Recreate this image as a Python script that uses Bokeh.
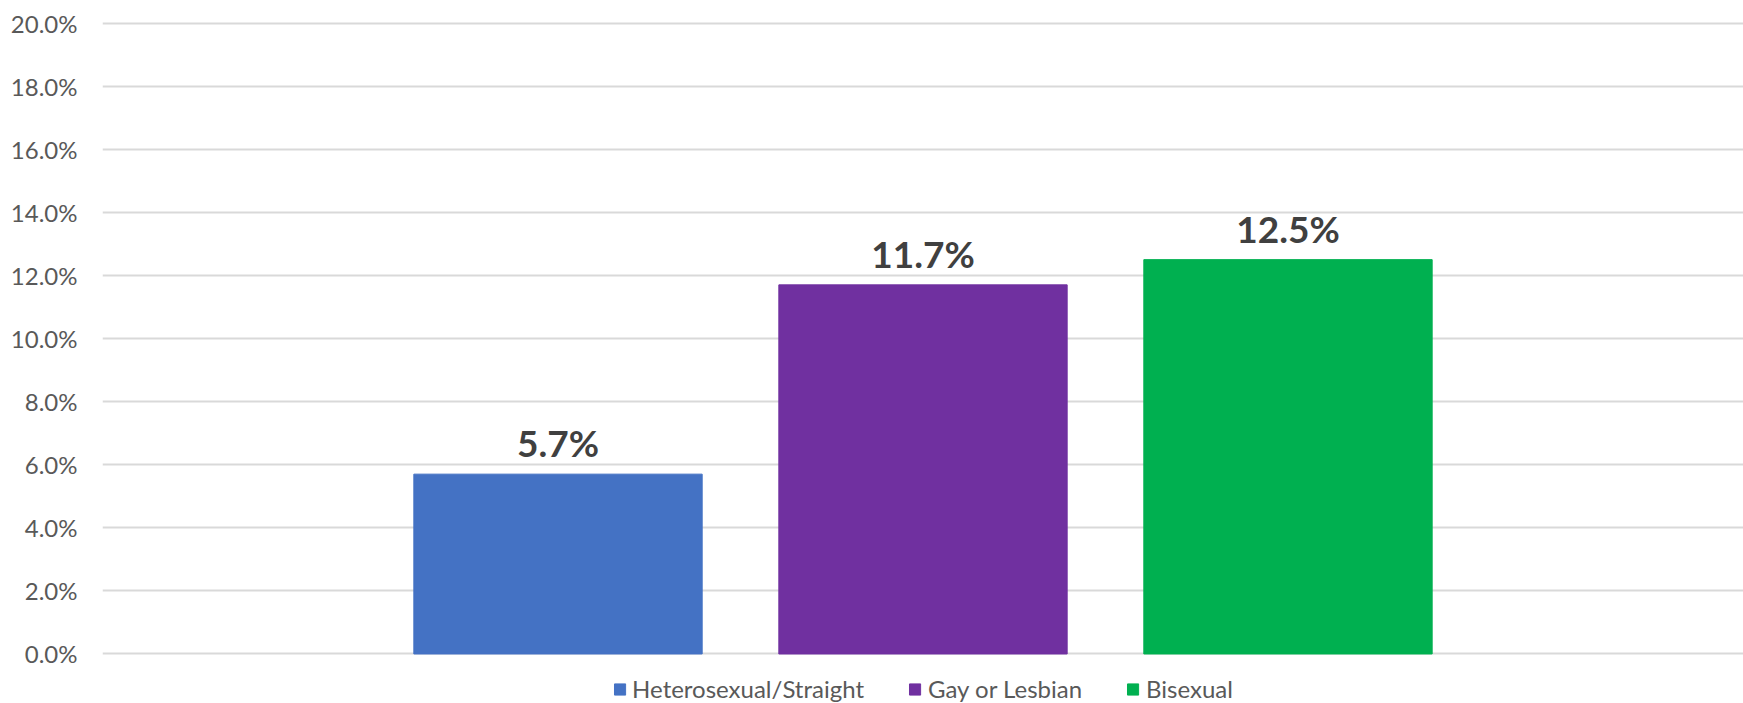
from bokeh.plotting import figure
from bokeh.layouts import column
from bokeh.models import ColumnDataSource, FixedTicker, NumeralTickFormatter, Range1d, Legend, LegendItem, LabelSet
from bokeh.core.properties import value
from bokeh.embed import file_html
from bokeh.resources import INLINE

categories = ["Heterosexual/Straight", "Gay or Lesbian", "Bisexual"]
values = [0.057, 0.117, 0.125]
labels = ["5.7%", "11.7%", "12.5%"]
colors = ["#4472C4", "#7030A0", "#00B050"]
positions = [-1, 0, 1]
y_ticks = [0.0, 0.02, 0.04, 0.06, 0.08, 0.10, 0.12, 0.14, 0.16, 0.18, 0.20]

src = ColumnDataSource(dict(x=positions, top=values, cat=categories, color=colors, label=labels))

p = figure(frame_width=1641, frame_height=636, output_backend="svg", toolbar_location=None,
           x_axis_type=None, x_range=Range1d(-2.248, 2.248), y_range=Range1d(-0.0008, 0.2008),
           min_border_left=102, min_border_right=0, min_border_top=20, min_border_bottom=12)
p.outline_line_color = None
p.background_fill_color = "white"
p.border_fill_color = "white"

r = p.vbar(x="x", top="top", width=0.79, bottom=0, color="color", source=src)

lbl = LabelSet(x="x", y="top", text="label", source=src, text_align="center", text_baseline="alphabetic",
               y_offset=17, text_font=value("Lato"), text_font_size=value("37px"), text_font_style="bold",
               text_color="#404040")
p.add_layout(lbl)

p.yaxis.ticker = FixedTicker(ticks=y_ticks)
p.yaxis.formatter = NumeralTickFormatter(format="0.0%")
p.yaxis.axis_line_color = None
p.yaxis.major_tick_line_color = None
p.yaxis.minor_tick_line_color = None
p.yaxis.major_label_text_font = "Lato"
p.yaxis.major_label_text_font_size = "24px"
p.yaxis.major_label_text_color = "#595959"
p.yaxis.major_label_standoff = 19

p.xgrid.visible = False
p.ygrid.grid_line_color = "#d9d9d9"
p.ygrid.grid_line_width = 2
p.ygrid.ticker = FixedTicker(ticks=y_ticks)

# legend strip below the chart (its bars sit outside its own visible range)
lf = figure(width=1743, height=35, output_backend="svg", toolbar_location=None,
            x_axis_type=None, y_axis_type=None, x_range=Range1d(-2.248, 2.248), y_range=Range1d(1, 2),
            min_border_left=0, min_border_right=0, min_border_top=0, min_border_bottom=0)
lf.outline_line_color = None
lf.xgrid.visible = False
lf.ygrid.visible = False
lr = lf.vbar(x="x", top="top", width=0.79, bottom=0, color="color", source=src)

items = [LegendItem(label=c, renderers=[lr], index=i) for i, c in enumerate(categories)]
legend = Legend(items=items, orientation="horizontal", location="bottom_center",
                label_text_font="Lato", label_text_font_size="24px", label_text_color="#595959",
                glyph_width=14, glyph_height=14, spacing=44, label_standoff=6,
                border_line_color=None, background_fill_alpha=0, padding=2, margin=0)
lf.add_layout(legend, "center")

open("out.html", "w").write(file_html(column(p, lf, spacing=0), INLINE))
